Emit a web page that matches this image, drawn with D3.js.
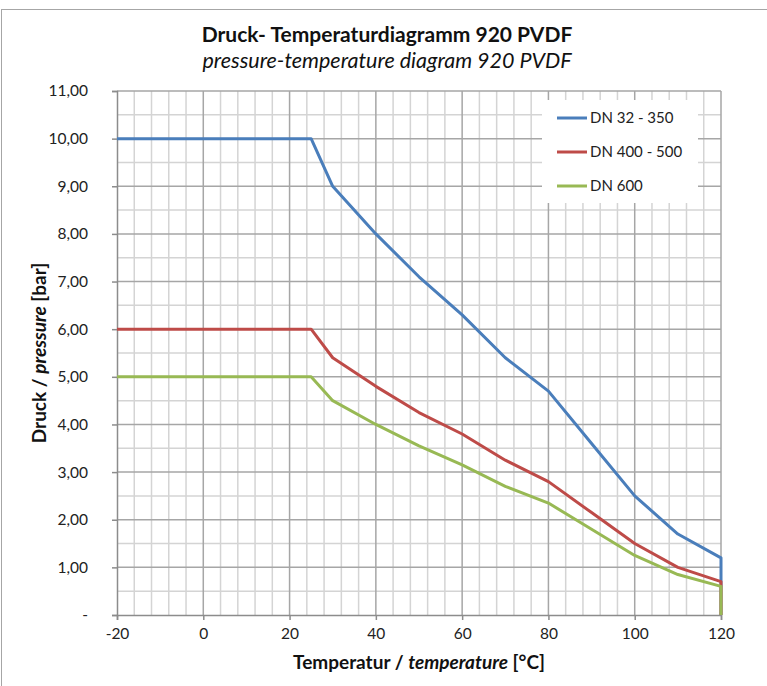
<!DOCTYPE html>
<html>
<head>
<meta charset="utf-8">
<script src="https://cdn.jsdelivr.net/npm/d3@7"></script>
<style>
  html, body { margin: 0; padding: 0; background: #fff; }
  svg { display: block; font-family: Lato, "Open Sans", sans-serif; }
</style>
</head>
<body>
<svg id="chart" width="767" height="686"></svg>
<script>
// ---- data ----
const temperatures = [-20, 25, 30, 40, 50, 60, 70, 80, 90, 100, 110, 120, 120];
const dn32_350  = [10, 10, 9, 8, 7.1, 6.3, 5.4, 4.7, 3.6, 2.5, 1.7, 1.2, 0];
const dn400_500 = [6, 6, 5.4, 4.8, 4.25, 3.8, 3.25, 2.8, 2.15, 1.5, 1.0, 0.7, 0];
const dn600     = [5, 5, 4.5, 4.0, 3.55, 3.15, 2.7, 2.35, 1.8, 1.25, 0.85, 0.6, 0];
const seriesNames = ["DN 32 - 350", "DN 400 - 500", "DN 600"];
const seriesColors = ["#4A7EBB", "#BE4B48", "#98B954"];
const xTicks = [-20, 0, 20, 40, 60, 80, 100, 120];
const yTicks = [0, 1, 2, 3, 4, 5, 6, 7, 8, 9, 10, 11];

const series = [dn32_350, dn400_500, dn600].map((vals, i) => ({
  name: seriesNames[i], color: seriesColors[i],
  points: temperatures.map((t, j) => [t, vals[j]])
}));

const svg = d3.select("#chart");
const x = d3.scaleLinear().domain([-20, 120]).range([117, 721]);
const y = d3.scaleLinear().domain([0, 11]).range([615, 91]);

// outer chart border
svg.append("rect").attr("x", 1.5).attr("y", 9.5).attr("width", 900).attr("height", 900)
  .attr("fill", "none").attr("stroke", "#a6a6a6").attr("stroke-width", 1);

// minor grid
const g = svg.append("g");
const minorX = d3.range(-20, 120.001, 4).filter(v => (v + 20) % 20 !== 0);
const minorY = d3.range(0.5, 11, 1);
g.selectAll(".mx").data(minorX).join("line")
  .attr("x1", d => x(d)).attr("x2", d => x(d)).attr("y1", y(0)).attr("y2", y(11))
  .attr("stroke", "#d4d4d4").attr("stroke-width", 1.5);
g.selectAll(".my").data(minorY).join("line")
  .attr("x1", x(-20)).attr("x2", x(120)).attr("y1", d => y(d)).attr("y2", d => y(d))
  .attr("stroke", "#d4d4d4").attr("stroke-width", 1.5);
// major grid
g.selectAll(".Mx").data(xTicks.filter(v => v !== -20)).join("line")
  .attr("x1", d => x(d)).attr("x2", d => x(d)).attr("y1", y(0)).attr("y2", y(11))
  .attr("stroke", "#a6a6a6").attr("stroke-width", 1.5);
g.selectAll(".My").data(yTicks.filter(v => v !== 0)).join("line")
  .attr("x1", x(-20)).attr("x2", x(120)).attr("y1", d => y(d)).attr("y2", d => y(d))
  .attr("stroke", "#a6a6a6").attr("stroke-width", 1.5);

// axes
const fmtY = d => d === 0 ? "-" : d3.format(".2f")(d).replace(".", ",");
const fmtX = d => String(d);
const yAxis = svg.append("g").attr("transform", `translate(${x(-20)},0)`)
  .call(d3.axisLeft(y).tickValues(yTicks).tickFormat(fmtY).tickSize(5).tickPadding(22));
const xAxis = svg.append("g").attr("transform", `translate(0,${y(0)})`)
  .call(d3.axisBottom(x).tickValues(xTicks).tickFormat(fmtX).tickSize(5).tickPadding(8));
[yAxis, xAxis].forEach(a => {
  a.select(".domain").attr("stroke", "#8c8c8c").attr("stroke-width", 1.5);
  a.selectAll(".tick line").attr("stroke", "#8c8c8c").attr("stroke-width", 1.5);
  a.selectAll("text").attr("fill", "#222").style("font-size", "15.5px").style("font-family", "Lato, sans-serif");
});
yAxis.selectAll("text").attr("text-anchor", "end").attr("dx", "-2");

// lines
const line = d3.line().x(d => x(d[0])).y(d => y(d[1]));
svg.append("g").selectAll("path").data(series).join("path")
  .attr("d", d => line(d.points))
  .attr("fill", "none").attr("stroke", d => d.color).attr("stroke-width", 3)
  .attr("stroke-linejoin", "round");

// legend
const lg = svg.append("g");
lg.append("rect").attr("x", 542).attr("y", 100).attr("width", 156).attr("height", 103).attr("fill", "#fff");
const rowY = [118, 152, 186];
series.forEach((s, i) => {
  lg.append("line").attr("x1", 557).attr("x2", 587).attr("y1", rowY[i]).attr("y2", rowY[i])
    .attr("stroke", s.color).attr("stroke-width", 3);
  lg.append("text").attr("x", 590).attr("y", rowY[i]).attr("dy", "0.35em")
    .attr("fill", "#222").style("font-size", "15px").text(s.name);
});

// titles
svg.append("text").attr("x", 387).attr("y", 42).attr("text-anchor", "middle").attr("fill", "#111")
  .style("font-weight", "bold").style("font-size", "21px")
  .text("Druck- Temperaturdiagramm 920 PVDF");
svg.append("text").attr("x", 387).attr("y", 68).attr("text-anchor", "middle").attr("fill", "#111")
  .style("font-style", "italic").style("font-size", "21.5px")
  .text("pressure-temperature diagram 920 PVDF");

const xt = svg.append("text").attr("x", 419).attr("y", 669).attr("text-anchor", "middle")
  .attr("fill", "#111").style("font-weight", "bold").style("font-size", "19px");
xt.append("tspan").text("Temperatur / ");
xt.append("tspan").style("font-style", "italic").text("temperature");
xt.append("tspan").text(" [°C]");

const yt = svg.append("text").attr("transform", `translate(46,${(y(0) + y(11)) / 2}) rotate(-90)`)
  .attr("text-anchor", "middle").attr("fill", "#111").style("font-weight", "bold").style("font-size", "19px");
yt.append("tspan").text("Druck / ");
yt.append("tspan").style("font-style", "italic").text("pressure");
yt.append("tspan").text(" [bar]");
</script>
</body>
</html>
